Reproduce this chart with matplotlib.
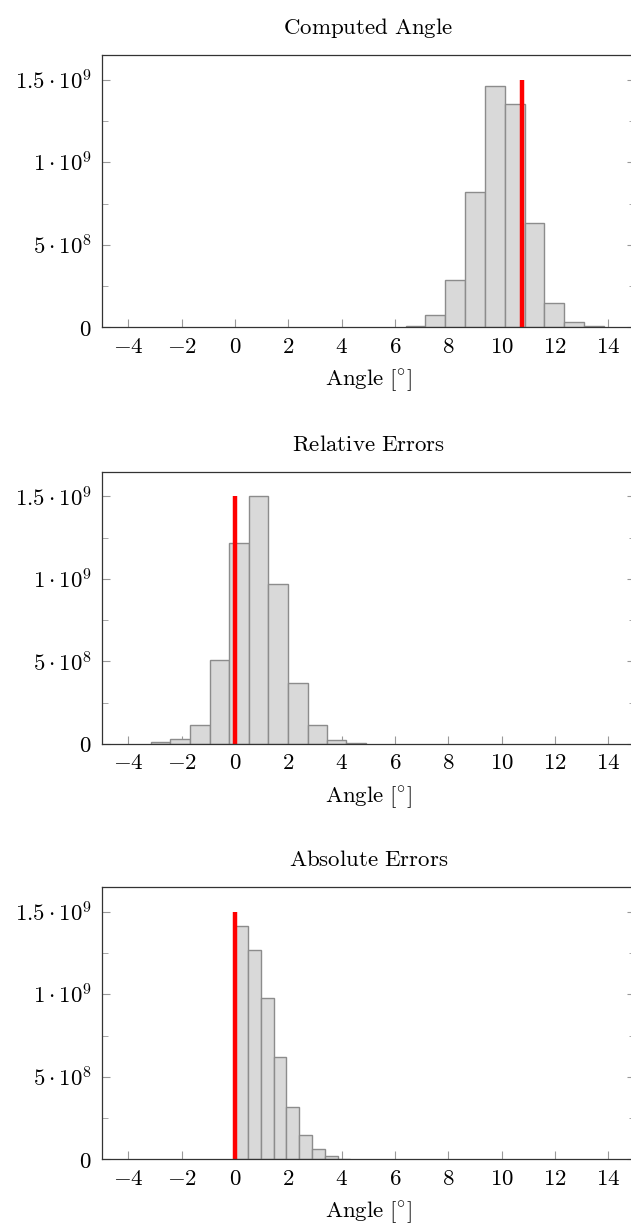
import matplotlib

matplotlib.use("Agg")
import matplotlib.pyplot as plt
import numpy as np
from matplotlib.ticker import FixedLocator, MultipleLocator

plt.rcParams["mathtext.fontset"] = "cm"
plt.rcParams["font.family"] = "serif"
plt.rcParams["font.serif"] = ["DejaVu Serif"]

# Histogram data: bin edges (degrees) and counts
computed_edges = [6.40, 7.14, 7.88, 8.63, 9.37, 10.12, 10.86, 11.60, 12.34, 13.09, 13.84]
computed_counts = [0.008e9, 0.073e9, 0.285e9, 0.822e9, 1.462e9, 1.355e9,
                   0.634e9, 0.145e9, 0.030e9, 0.006e9]
computed_ref = 10.77

relative_edges = [-3.15, -2.42, -1.68, -0.94, -0.21, 0.52, 1.25, 1.99, 2.73, 3.46, 4.18, 4.91]
relative_counts = [0.010e9, 0.030e9, 0.113e9, 0.506e9, 1.220e9, 1.502e9,
                   0.970e9, 0.371e9, 0.113e9, 0.022e9, 0.004e9]
relative_ref = 0.0

absolute_edges = [0.0, 0.49, 0.98, 1.46, 1.93, 2.41, 2.90, 3.37, 3.85, 4.33]
absolute_counts = [1.415e9, 1.270e9, 0.976e9, 0.619e9, 0.319e9, 0.150e9,
                   0.063e9, 0.018e9, 0.004e9]
absolute_ref = 0.0

ref_height = 1.5e9

titles = ["Computed Angle", "Relative Errors", "Absolute Errors"]
xticks = [-4, -2, 0, 2, 4, 6, 8, 10, 12, 14]
yticks = [0, 5e8, 1e9, 1.5e9]
ytick_labels = [r"$0$", r"$5\cdot10^{8}$", r"$1\cdot10^{9}$", r"$1.5\cdot10^{9}$"]

panels = [
    (computed_edges, computed_counts, computed_ref),
    (relative_edges, relative_counts, relative_ref),
    (absolute_edges, absolute_counts, absolute_ref),
]

W, H = 631, 1224
fig = plt.figure(figsize=(W / 100, H / 100), dpi=100)

left_px, right_px = 101.7, 635.0
bottoms_px = [327.3, 744.0, 1159.3]
height_px = 272.3
fs = 16.5

for (edges, counts, ref), title, bot in zip(panels, titles, bottoms_px):
    ax = fig.add_axes([left_px / W, (H - bot) / H,
                       (right_px - left_px) / W, height_px / H])
    edges = np.array(edges)
    ax.hist(edges[:-1], bins=edges, weights=counts, color="#d9d9d9",
            edgecolor="#8c8c8c", linewidth=1.0, zorder=2)
    ax.plot([ref, ref], [0, ref_height], color="red", linewidth=3.2,
            solid_capstyle="butt", zorder=3)

    ax.set_xlim(-5, 15)
    ax.set_ylim(0, 1.65e9)
    ax.xaxis.set_major_locator(FixedLocator(xticks))
    ax.set_xticklabels([f"${t}$" for t in xticks])
    ax.yaxis.set_major_locator(FixedLocator(yticks))
    ax.yaxis.set_minor_locator(MultipleLocator(2.5e8))
    ax.set_yticklabels(ytick_labels)

    ax.tick_params(axis="both", which="both", direction="in", color="#999999",
                   labelsize=fs)
    ax.tick_params(axis="y", which="both", right=True)
    ax.tick_params(axis="y", which="major", length=6, pad=7)
    ax.tick_params(axis="y", which="minor", length=4)
    ax.tick_params(axis="x", which="major", length=6, pad=6, top=False)
    for s in ax.spines.values():
        s.set_color("#333333")
        s.set_linewidth(0.9)
        s.set_zorder(4)

    ax.set_title(r"$\mathrm{" + title.replace(" ", r"\ ") + "}$",
                 fontsize=fs, pad=15)
    ax.set_xlabel(r"$\mathrm{Angle}\ [{}^{\circ}]$", fontsize=fs, labelpad=7)

fig.savefig("out.png", dpi=100)
